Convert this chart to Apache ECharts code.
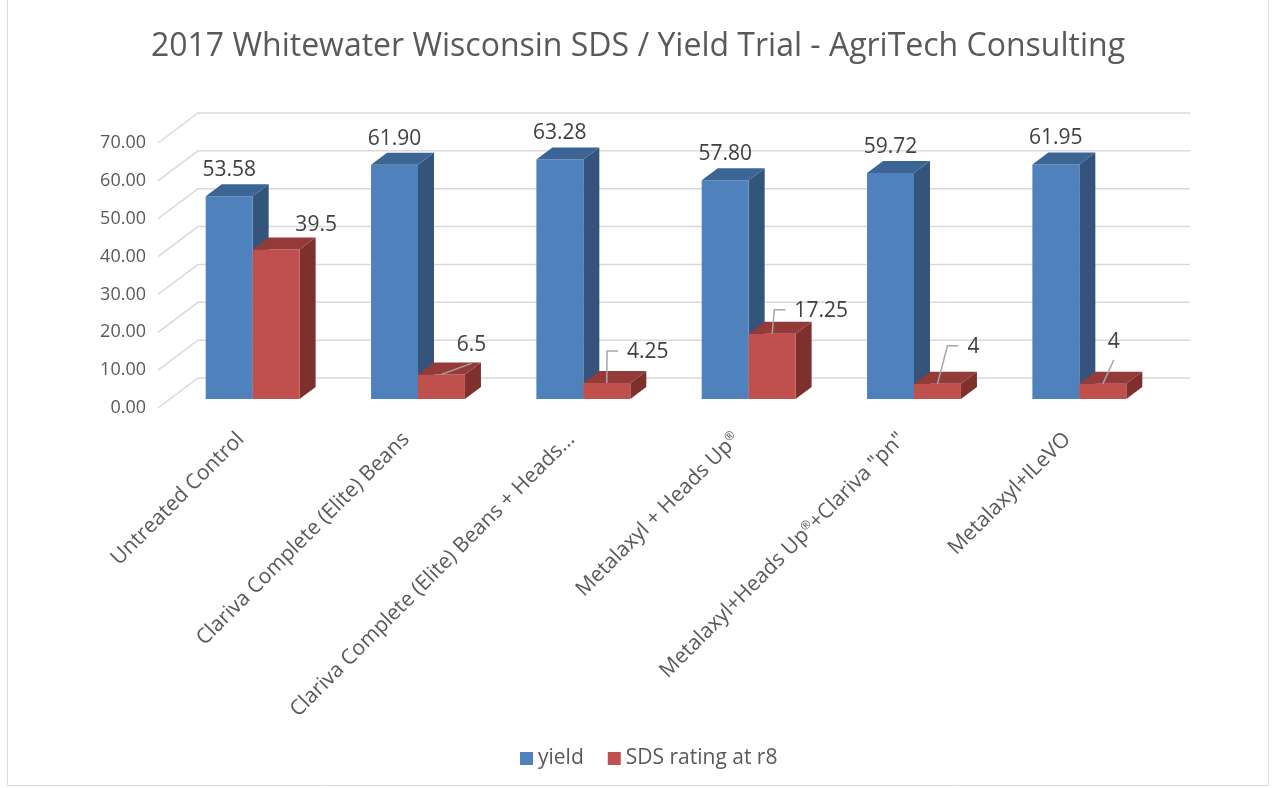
<!DOCTYPE html>
<html>
<head>
<meta charset="utf-8">
<title>2017 Whitewater Wisconsin SDS / Yield Trial</title>
<script src="https://cdn.jsdelivr.net/npm/echarts@6/dist/echarts.min.js"></script>
<style>
html, body { margin: 0; padding: 0; background: #fff; }
#main { width: 1276px; height: 788px; }
</style>
</head>
<body>
<div id="main"></div>
<script>
const categories = [
    'Untreated Control',
    'Clariva Complete (Elite) Beans',
    'Clariva Complete (Elite) Beans + Heads...',
    'Metalaxyl + Heads Up®',
    'Metalaxyl+Heads Up®+Clariva "pn"',
    'Metalaxyl+ILeVO'
];
const yieldData = [53.58, 61.90, 63.28, 57.80, 59.72, 61.95];
const sdsData = [39.5, 6.5, 4.25, 17.25, 4, 4];
const yTicks = [0, 10, 20, 30, 40, 50, 60, 70];

// where the red labels were dragged to: dx, dy from the bar top, leader kind
const sdsLabelShift = [[40, -24, 'none'], [30, -29, 'below'], [41, -31, 'elbow'], [49, -23, 'elbow'], [36, -37, 'elbow'], [11, -42, 'below']];

const textColor = '#595959';
const labelColor = '#404040';
const font = '"Open Sans", sans-serif';
const wallDepth = [40, -30];
const barDepth = [16, -12];
const yieldColors = {front: '#4f81bd', side: '#34547c', top: '#3c6595'};
const sdsColors = {front: '#c0504d', side: '#7d302e', top: '#943a38'};

const measureCtx = document.createElement('canvas').getContext('2d');
measureCtx.font = '21px "Open Sans"';

function labelText (text, x, y) {
    return {
        type: 'text',
        z2: 10,
        style: {
            text: text, x: x, y: y, align: 'center', verticalAlign: 'middle',
            fontSize: 21, fontFamily: font, fill: labelColor
        }
    };
}

function yieldLabel (i, cx, yT) {
    return [labelText(yieldData[i].toFixed(2), cx, yT - 26)];
}

function sdsLabel (i, cx, yT) {
    const s = sdsLabelShift[i];
    const text = String(sdsData[i]);
    const lx = cx + s[0];
    const ly = yT + s[1];
    const out = [labelText(text, lx, ly)];
    let pts = null;
    if (s[2] === 'elbow') {
        const left = lx - measureCtx.measureText(text).width / 2;
        pts = [[cx, yT], [left - 20, ly - 1], [left - 9, ly - 1]];
    } else if (s[2] === 'below') {
        pts = [[cx, yT], [lx, ly + 18]];
    }
    if (pts) {
        out.push({type: 'polyline', z2: 10, shape: {points: pts}, style: {stroke: '#a6a6a6', lineWidth: 1.5, fill: null}});
    }
    return out;
}

function barRender (c, onLeft, labelFn) {
    return function (params, api) {
        const cat = api.value(0);
        const top = api.coord([cat, api.value(1)]);
        const bottom = api.coord([cat, 0]);
        const bw = api.size([1, 0])[0] * 0.284;
        const x0 = onLeft ? top[0] - bw : top[0];
        const x1 = x0 + bw;
        const yT = top[1];
        const yB = bottom[1];
        const dx = barDepth[0];
        const dy = barDepth[1];
        const children = [
            {type: 'polygon', shape: {points: [[x1, yT], [x1 + dx, yT + dy], [x1 + dx, yB + dy], [x1, yB]]}, style: {fill: c.side}},
            {type: 'rect', shape: {x: x0, y: yT, width: bw, height: yB - yT}, style: {fill: c.front}},
            {type: 'polygon', shape: {points: [[x0, yT], [x0 + dx, yT + dy], [x1 + dx, yT + dy], [x1, yT]]}, style: {fill: c.top}}
        ];
        return {type: 'group', children: children.concat(labelFn(params.dataIndex, (x0 + x1) / 2, yT))};
    };
}

function wallRender (params, api) {
    const cs = params.coordSys;
    const y = api.coord([0, api.value(1)])[1];
    const bx = cs.x + wallDepth[0];
    const by = y + wallDepth[1];
    return {
        type: 'polyline',
        shape: {points: [[cs.x, y], [bx, by], [cs.x + cs.width + wallDepth[0], by]]},
        style: {stroke: '#d9d9d9', lineWidth: 1.5, fill: null}
    };
}

const chart = echarts.init(document.getElementById('main'));
chart.setOption({
    animation: false,
    backgroundColor: '#fff',
    title: {
        text: '2017 Whitewater Wisconsin SDS / Yield Trial - AgriTech Consulting',
        left: 'center',
        top: 26,
        textStyle: {fontSize: 32, fontWeight: 'normal', color: textColor, fontFamily: font}
    },
    graphic: [{
        type: 'rect',
        shape: {x: 7.5, y: -0.5, width: 1261, height: 786},
        style: {fill: null, stroke: '#d9d9d9', lineWidth: 1},
        silent: true
    }],
    legend: {
        left: 515,
        top: 743,
        icon: 'rect',
        itemWidth: 13,
        itemHeight: 13,
        itemGap: 24,
        data: ['yield', 'SDS rating at r8'],
        textStyle: {fontSize: 21, color: textColor, fontFamily: font}
    },
    grid: [
        {left: 158, top: 143, width: 992, height: 265},
        {left: 170, top: 134, width: 992, height: 265}
    ],
    xAxis: [
        {
            type: 'category',
            gridIndex: 0,
            data: categories,
            axisLine: {show: false},
            axisTick: {show: false},
            axisLabel: {
                rotate: 45,
                interval: 0,
                margin: 28,
                fontSize: 21,
                color: textColor,
                fontFamily: font,
                formatter: (v) => v.replace('®', '{r|®}'),
                rich: {r: {fontSize: 12, color: textColor, fontFamily: font, verticalAlign: 'top'}}
            }
        },
        {type: 'category', gridIndex: 1, data: categories, show: false}
    ],
    yAxis: [
        {
            type: 'value',
            gridIndex: 0,
            min: 0,
            max: 70,
            interval: 10,
            axisLine: {show: false},
            axisTick: {show: false},
            splitLine: {show: false},
            axisLabel: {
                margin: 12,
                fontSize: 18,
                color: textColor,
                fontFamily: font,
                formatter: (v) => v.toFixed(2)
            }
        },
        {type: 'value', gridIndex: 1, min: 0, max: 70, interval: 10, show: false}
    ],
    series: [
        {
            type: 'custom',
            xAxisIndex: 0,
            yAxisIndex: 0,
            silent: true,
            z: 1,
            data: yTicks.map((v) => [0, v]),
            renderItem: wallRender
        },
        {
            name: 'yield',
            type: 'custom',
            xAxisIndex: 1,
            yAxisIndex: 1,
            z: 2,
            itemStyle: {color: yieldColors.front},
            data: yieldData.map((v, i) => [i, v]),
            renderItem: barRender(yieldColors, true, yieldLabel)
        },
        {
            name: 'SDS rating at r8',
            type: 'custom',
            xAxisIndex: 1,
            yAxisIndex: 1,
            z: 3,
            itemStyle: {color: sdsColors.front},
            data: sdsData.map((v, i) => [i, v]),
            renderItem: barRender(sdsColors, false, sdsLabel)
        }
    ]
});
</script>
</body>
</html>
